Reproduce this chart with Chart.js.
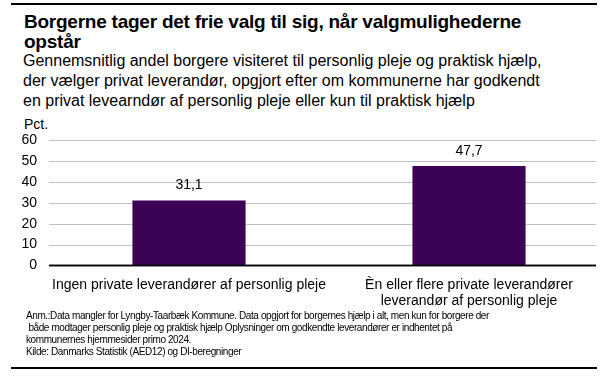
<!DOCTYPE html>
<html><head><meta charset="utf-8">
<script src="https://cdn.jsdelivr.net/npm/chart.js@4"></script>
<style>
html,body{margin:0;padding:0;background:#fff;}
body{width:609px;height:377px;position:relative;overflow:hidden;font-family:"Liberation Sans",Arial,sans-serif;color:#000;}
.rule{position:absolute;left:11px;width:586px;height:2px;background:#000;}
#title{position:absolute;left:24px;top:12px;font-weight:bold;font-size:19px;line-height:20px;letter-spacing:-0.24px;width:580px;white-space:nowrap;}
#sub{position:absolute;left:23px;top:51px;font-size:16px;line-height:20px;width:585px;white-space:nowrap;}
#pct{position:absolute;left:24px;top:116px;font-size:14px;}
#notes{position:absolute;left:26px;top:310px;font-size:10px;line-height:12px;letter-spacing:-0.4px;width:580px;white-space:nowrap;}
#wrap{position:absolute;left:0;top:120px;width:609px;height:201px;}
</style></head>
<body>
<div class="rule" style="top:3px"></div>
<div id="title">Borgerne tager det frie valg til sig, når valgmulighederne<br>opstår</div>
<div id="sub">Gennemsnitlig andel borgere visiteret til personlig pleje og praktisk hjælp,<br>der vælger privat leverandør, opgjort efter om kommunerne har godkendt<br>en privat levearndør af personlig pleje eller kun til praktisk hjælp</div>
<div id="pct">Pct.</div>
<div id="wrap"><canvas id="c"></canvas></div>
<div id="notes">Anm.:Data mangler for Lyngby-Taarbæk Kommune. Data opgjort for borgernes hjælp i alt, men kun for borgere der<br>&nbsp;både modtager personlig pleje og praktisk hjælp Oplysninger om godkendte leverandører er indhentet på<br>kommunernes hjemmesider primo 2024.<br>Kilde: Danmarks Statistik (AED12) og DI-beregninger</div>
<div class="rule" style="top:367px"></div>
<script>
const categories = [
  ["Ingen private leverandører af personlig pleje"],
  ["Èn eller flere private leverandører", "leverandør af personlig pleje"]
];
const values = [31.1, 47.7];
const yTicks = [0, 10, 20, 30, 40, 50, 60];

// gridlines and baseline, stopping a little short of the right edge as in the original
const gridPlugin = {
  id: 'gridLines',
  beforeDatasetsDraw(chart) {
    const ctx = chart.ctx;
    const y = chart.scales.y;
    const a = chart.chartArea;
    const right = a.right - 13;
    ctx.save();
    yTicks.forEach(v => {
      const py = Math.round(y.getPixelForValue(v)) + 0.5;
      ctx.beginPath();
      if (v === 0) { ctx.strokeStyle = '#000'; ctx.lineWidth = 1.5; }
      else { ctx.strokeStyle = '#bfbfbf'; ctx.lineWidth = 1.2; }
      ctx.moveTo(a.left, py);
      ctx.lineTo(right, py);
      ctx.stroke();
    });
    ctx.restore();
  },
  afterDatasetsDraw(chart) {
    const ctx = chart.ctx;
    const y = chart.scales.y;
    const a = chart.chartArea;
    const py = Math.round(y.getPixelForValue(0)) + 0.5;
    ctx.save();
    ctx.strokeStyle = '#000'; ctx.lineWidth = 1.5;
    ctx.beginPath(); ctx.moveTo(a.left, py); ctx.lineTo(a.right - 13, py); ctx.stroke();
    ctx.restore();
  }
};

const labelPlugin = {
  id: 'valueLabels',
  afterDatasetsDraw(chart) {
    const ctx = chart.ctx;
    const meta = chart.getDatasetMeta(0);
    ctx.save();
    ctx.font = '14px "Liberation Sans", Arial, sans-serif';
    ctx.fillStyle = '#000';
    ctx.textAlign = 'center';
    ctx.textBaseline = 'bottom';
    meta.data.forEach((bar, i) => {
      ctx.fillText(values[i].toFixed(1).replace('.', ','), bar.x, bar.y - 8);
    });
    ctx.restore();
  }
};

new Chart(document.getElementById('c'), {
  type: 'bar',
  data: {
    labels: categories,
    datasets: [{
      data: values,
      backgroundColor: '#3b0256',
      barPercentage: 0.404,
      categoryPercentage: 1.0
    }]
  },
  options: {
    responsive: true,
    maintainAspectRatio: false,
    animation: false,
    layout: { padding: { top: 12, right: 0, left: 0, bottom: 0 } },
    plugins: { legend: { display: false }, tooltip: { enabled: false }, title: { display: false } },
    scales: {
      x: {
        grid: { display: false, drawTicks: false },
        border: { display: false },
        ticks: {
          color: '#000',
          font: { family: '"Liberation Sans", Arial, sans-serif', size: 14 },
          padding: 11,
          maxRotation: 0,
          autoSkip: false
        }
      },
      y: {
        min: 0, max: 60,
        afterBuildTicks(scale) { scale.ticks = yTicks.map(v => ({ value: v })); },
        afterFit(scale) { scale.width = 49; },
        grid: { display: false, drawTicks: false },
        border: { display: false },
        ticks: {
          color: '#000',
          font: { family: '"Liberation Sans", Arial, sans-serif', size: 14 },
          padding: 12
        }
      }
    }
  },
  plugins: [gridPlugin, labelPlugin]
});
</script>
</body></html>
